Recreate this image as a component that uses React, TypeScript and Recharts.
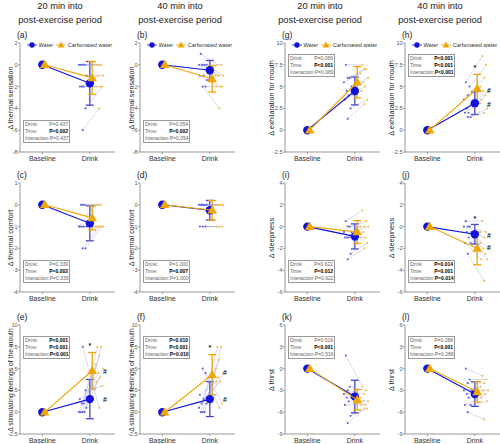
import React from 'react';
import { ComposedChart, Scatter, XAxis, YAxis, ErrorBar } from 'recharts';

const BLUE = '#1212dc';
const ORANGE = '#f2a600';
const FONT = '"Liberation Sans", Arial, sans-serif';

// panels in letter order a..l
const panelLetters = ['a', 'b', 'c', 'd', 'e', 'f', 'g', 'h', 'i', 'j', 'k', 'l'];
const columnTitles = ['20 min into', '40 min into', '20 min into', '40 min into'];
const yLabels = [
  'Δ thermal sensation', 'Δ thermal sensation',
  'Δ thermal comfort', 'Δ thermal comfort',
  'Δ stimulating feelings of the mouth', 'Δ stimulating feelings of the mouth',
  'Δ exhilaration for mouth', 'Δ exhilaration for mouth',
  'Δ sleepiness', 'Δ sleepiness',
  'Δ thirst', 'Δ thirst',
];
const yTicks = [
  [-8, -6, -4, -2, 0, 2], [-8, -6, -4, -2, 0, 2],
  [-4, -3, -2, -1, 0, 1], [-4, -3, -2, -1, 0, 1],
  [-2.5, 0, 2.5, 5, 7.5, 10], [-2.5, 0, 2.5, 5, 7.5, 10],
  [-2.5, 0, 2.5, 5, 7.5, 10], [-2.5, 0, 2.5, 5, 7.5, 10],
  [-6, -4, -2, 0, 2, 4], [-6, -4, -2, 0, 2, 4],
  [-9, -6, -3, 0, 3, 6], [-9, -6, -3, 0, 3, 6],
];

const waterMean = [-1.7, -0.5, -0.85, -0.25, 1.5, 1.5, 4.5, 3.1, -0.9, -0.7, -3.85, -3.5];
const waterSD = [2.0, 0.9, 0.8, 0.45, 2.25, 2.0, 1.6, 1.3, 1.15, 0.9, 2.25, 1.7];
const carbMean = [-1.2, -1.3, -0.6, -0.25, 4.75, 4.3, 5.5, 4.75, -0.5, -2.0, -4.3, -3.2];
const carbSD = [1.5, 1.2, 0.55, 0.45, 2.1, 2.3, 1.8, 1.65, 1.05, 1.5, 1.4, 1.4];

const waterInd = [
  [0, 0, 0, 0, -1, -2, -2, -2, -4, -6],
  [1, 0, 0, 0, 0, 0, -1, -1, -2, -2],
  [0, 0, 0, -1, -1, -1, -1, -1, -2, -2],
  [0, 0, 0, 0, 0, 0, 0, -1, -1, -1],
  [0, 0, 0, 0, 0.5, 1, 1, 1.5, 2.5, 7.5],
  [0, 0, 0, 0.5, 1, 1, 1.5, 2, 4.5, 5],
  [7.5, 6, 6, 5.5, 5, 4.5, 4, 3.5, 2.5, 1.3],
  [5.5, 5, 4, 3.5, 3, 2.5, 2, 2, 1.5, 1.5],
  [0.5, 0, 0, -0.5, -0.5, -1, -1, -1, -2.5, -3],
  [0.5, 0, 0, 0, -0.5, -0.5, -1, -1.5, -1.5, -2.5],
  [1.8, -2.5, -3, -3.5, -4, -4, -4.5, -5, -6.5, -7.5],
  [0, -1.5, -2, -3, -3, -3.5, -4, -5, -5, -6],
];
const carbInd = [
  [0, 0, 0, 0, -1, -1, -2, -2, -2, -4],
  [0, 0, -1, -1, -1, -1, -2, -2, -2, -4],
  [0, 0, 0, 0, -1, -1, -1, -1, -1, -1],
  [0, 0, 0, 0, 0, 0, 0, -1, -1, -1],
  [7.5, 7.5, 6.5, 5.5, 5, 4.5, 4, 3.5, 3, 0.5],
  [7.5, 7.5, 6, 5, 4.5, 4, 3.5, 3.5, 1, 0.5],
  [7.5, 7, 7, 6.5, 6, 5.5, 5, 4.5, 3.5, 3],
  [8.5, 7.5, 6, 5, 4.5, 4.5, 4, 3.5, 2.5, 2],
  [1.5, 0.5, 0, 0, 0, -0.5, -1, -1, -1.5, -2],
  [0.5, -0.5, -1, -1.5, -2, -2, -2.5, -3, -3, -5],
  [-2.5, -3, -3.5, -4, -4.5, -4.5, -5, -5, -5.5, -5.5],
  [-1, -1.5, -2, -2.5, -3, -3, -3.5, -4, -4.5, -7],
];

const pDrink = ['P=0.437', 'P=0.054', 'P=0.339', 'P=1.000', 'P<0.001', 'P=0.010', 'P=0.089', 'P<0.001', 'P=0.622', 'P=0.014', 'P=0.516', 'P=0.288'];
const pTime = ['P=0.002', 'P=0.002', 'P=0.002', 'P=0.007', 'P<0.001', 'P<0.001', 'P<0.001', 'P<0.001', 'P=0.012', 'P=0.001', 'P<0.001', 'P<0.001'];
const pInteraction = ['P=0.437', 'P=0.054', 'P=0.339', 'P=1.000', 'P<0.001', 'P=0.010', 'P=0.089', 'P<0.001', 'P=0.622', 'P=0.014', 'P=0.516', 'P=0.288'];

// significance marks: * vs water, # vs baseline
const sigMarks: { x: number; y: number; s: string }[][] = [
  [], [], [], [],
  [{ x: 2, y: 7.6, s: '*' }, { x: 2.32, y: 4.7, s: '#' }, { x: 2.32, y: 1.4, s: '#' }],
  [{ x: 2, y: 7.4, s: '*' }, { x: 2.32, y: 4.5, s: '#' }, { x: 2.32, y: 1.5, s: '#' }],
  [],
  [{ x: 2, y: 7.2, s: '*' }, { x: 2.3, y: 4.6, s: '#' }, { x: 2.3, y: 3.0, s: '#' }],
  [],
  [{ x: 2, y: 0.7, s: '*' }, { x: 2.3, y: -0.8, s: '#' }, { x: 2.3, y: -1.9, s: '#' }],
  [], [],
];

// layout
const COL_X = [20, 140, 285, 405];
const ROW_Y = [43, 183, 325];
const TITLE_X = [60, 180, 320, 440];
const LABEL_X = [9.5, 130.5, 271, 391];
const PLOT_W = 95;
const PLOT_H = 109;
const panelCol = [0, 1, 0, 1, 0, 1, 2, 3, 2, 3, 2, 3];
const panelRow = [0, 0, 1, 1, 2, 2, 0, 0, 1, 1, 2, 2];
const boxOnTop = [false, false, false, false, true, true, true, true, false, false, true, true];
const jitter = [-0.04, 0.04, 0, -0.08, 0.08, -0.02, 0.02, -0.06, 0.06, 0];

const isSig = (p: string) => p.includes('<') || parseFloat(p.slice(2)) < 0.05;

const WaterDot = (props: any) => <circle cx={props.cx} cy={props.cy} r={4.2} fill={BLUE} />;
const CarbTri = (props: any) => {
  const { cx, cy } = props;
  return <polygon points={`${cx},${cy - 5} ${cx - 4.8},${cy + 3.3} ${cx + 4.8},${cy + 3.3}`} fill={ORANGE} />;
};
const SmallDot = (color: string) => (props: any) => <circle cx={props.cx} cy={props.cy} r={1.1} fill={color} />;
const NoShape = () => <g />;
const MarkText = (props: any) => (
  <text x={props.cx} y={props.cy} fontSize={7} fontWeight="bold" fill="#222" textAnchor="middle" dominantBaseline="central" fontFamily={FONT}>
    {props.payload.s}
  </text>
);

function StatsBox({ i }: { i: number }) {
  const rows = [['Drink:', pDrink[i]], ['Time:', pTime[i]], ['Interaction:', pInteraction[i]]];
  const left = COL_X[panelCol[i]] + 3;
  const top = ROW_Y[panelRow[i]] + (boxOnTop[i] ? 11 : 77);
  return (
    <div style={{ position: 'absolute', left, top, width: 43, border: '1px solid #999', background: '#fff', padding: '0 1px', fontFamily: FONT, fontSize: 5, lineHeight: '7px' }}>
      {rows.map(([k, v]) => (
        <div key={k} style={{ display: 'flex', justifyContent: 'space-between' }}>
          <span style={{ color: '#666' }}>{k}</span>
          <span style={{ color: isSig(v) ? '#000' : '#666', fontWeight: isSig(v) ? 'bold' : 'normal' }}>{v}</span>
        </div>
      ))}
    </div>
  );
}

function LegendRow({ col }: { col: number }) {
  const x = COL_X[col];
  return (
    <div style={{ position: 'absolute', left: x + 7, top: ROW_Y[0] - 3, height: 10, display: 'flex', alignItems: 'center', whiteSpace: 'nowrap', fontFamily: FONT, fontSize: 5.6, color: '#333' }}>
      <svg width={10} height={10}>
        <line x1={0} y1={5} x2={10} y2={5} stroke={BLUE} strokeWidth={0.8} />
        <circle cx={5} cy={5} r={2.7} fill={BLUE} />
      </svg>
      <span style={{ marginLeft: 1.5, marginRight: 3 }}>Water</span>
      <svg width={10} height={10}>
        <line x1={0} y1={5} x2={10} y2={5} stroke={ORANGE} strokeWidth={0.8} />
        <polygon points="5,1.4 1.6,7.4 8.4,7.4" fill={ORANGE} />
      </svg>
      <span style={{ marginLeft: 1.5 }}>Carbonated water</span>
    </div>
  );
}

function Panel({ i }: { i: number }) {
  const col = panelCol[i];
  const row = panelRow[i];
  const left = COL_X[col];
  const top = ROW_Y[row];
  const ticks = yTicks[i];
  const wInd = waterInd[i].map((y, k) => ({ x: 1.85 + jitter[k], y }));
  const cInd = carbInd[i].map((y, k) => ({ x: 2.2 + jitter[k], y }));
  const waterSeries = [{ x: 1, y: 0 }, { x: 2, y: waterMean[i], e: waterSD[i] }];
  const carbSeries = [{ x: 1.05, y: 0 }, { x: 2.05, y: carbMean[i], e: carbSD[i] }];
  const tickStyle = { fontSize: 5.5, fill: '#555', fontFamily: FONT };

  return (
    <>
      <div style={{ position: 'absolute', left: left - 20, top: top - 6, width: PLOT_W + 24, height: PLOT_H + 22 }}>
        <ComposedChart width={PLOT_W + 24} height={PLOT_H + 22} margin={{ top: 6, right: 4, left: 0, bottom: 0 }}>
          <XAxis
            type="number"
            dataKey="x"
            domain={[0.53, 2.53]}
            ticks={[1, 2]}
            interval={0}
            allowDataOverflow
            tickFormatter={(v: number) => (v === 1 ? 'Baseline' : 'Drink')}
            height={16}
            stroke="#999"
            tickSize={2}
            tick={{ fontSize: 7, fill: '#333', fontFamily: FONT }}
          />
          <YAxis
            type="number"
            dataKey="y"
            domain={[ticks[0], ticks[ticks.length - 1]]}
            ticks={ticks}
            interval={0}
            allowDataOverflow
            width={20}
            stroke="#999"
            tickSize={2}
            tickMargin={0.5}
            tick={tickStyle}
          />
          {wInd.map((w, k) => (
            <Scatter
              key={`pair-${k}`}
              data={[w, cInd[k]]}
              line={{ stroke: 'rgba(150,150,215,0.45)', strokeWidth: 0.8 }}
              shape={NoShape}
              isAnimationActive={false}
            />
          ))}
          <Scatter data={wInd} shape={SmallDot('#6a6ae0')} isAnimationActive={false} />
          <Scatter data={cInd} shape={SmallDot('#f5c25a')} isAnimationActive={false} />
          <Scatter data={waterSeries} line={{ stroke: BLUE, strokeWidth: 1.1 }} shape={WaterDot} isAnimationActive={false}>
            <ErrorBar dataKey="e" direction="y" width={4} stroke="#4646d0" strokeWidth={1.3} />
          </Scatter>
          <Scatter data={carbSeries} line={{ stroke: ORANGE, strokeWidth: 1.1 }} shape={CarbTri} isAnimationActive={false}>
            <ErrorBar dataKey="e" direction="y" width={4} stroke={ORANGE} strokeWidth={1.3} />
          </Scatter>
          {sigMarks[i].length > 0 && <Scatter data={sigMarks[i]} shape={MarkText} isAnimationActive={false} />}
        </ComposedChart>
      </div>
      <div style={{ position: 'absolute', left: left - 3, top: top - 13, fontFamily: FONT, fontSize: 8.5, color: '#222' }}>
        ({panelLetters[i]})
      </div>
      <div
        style={{
          position: 'absolute',
          left: LABEL_X[col],
          top: top + PLOT_H / 2,
          transform: 'translate(-50%, -50%) rotate(-90deg)',
          whiteSpace: 'nowrap',
          fontFamily: FONT,
          fontSize: i === 4 || i === 5 ? 6.8 : 7.2,
          color: '#222',
        }}
      >
        {yLabels[i]}
      </div>
      <StatsBox i={i} />
    </>
  );
}

export default function App() {
  return (
    <div style={{ position: 'absolute', left: 0, top: 0, width: 500, height: 444, background: '#fff', overflow: 'hidden' }}>
      {columnTitles.map((t, c) => (
        <div
          key={c}
          style={{ position: 'absolute', left: TITLE_X[c] - 60, top: 0, width: 120, textAlign: 'center', fontFamily: FONT, fontSize: 9.3, lineHeight: '13.5px', color: '#222' }}
        >
          {t}
          <br />
          post-exercise period
        </div>
      ))}
      {panelLetters.map((_, i) => (
        <Panel key={i} i={i} />
      ))}
      {[0, 1, 2, 3].map((c) => (
        <LegendRow key={c} col={c} />
      ))}
    </div>
  );
}
